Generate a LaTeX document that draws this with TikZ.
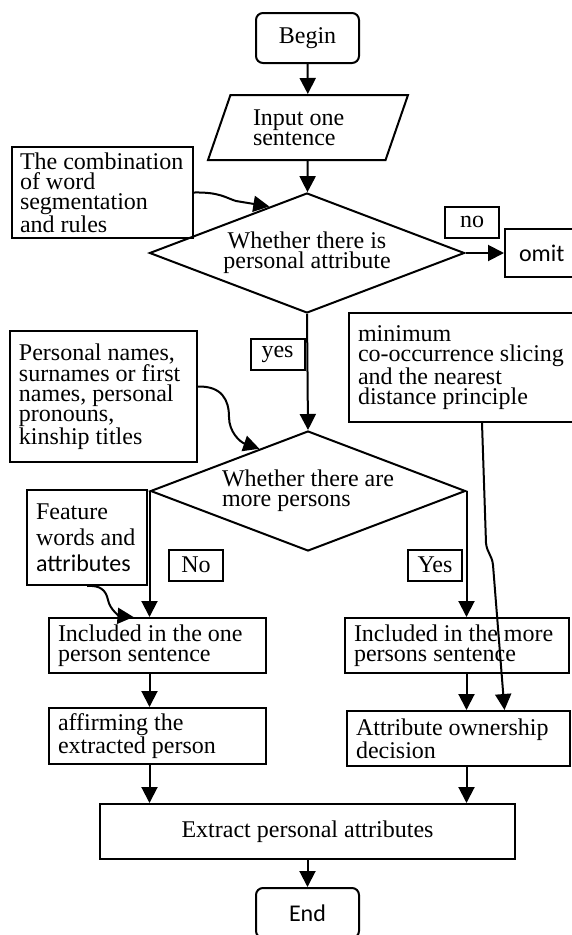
\documentclass[tikz,border=0pt]{standalone}
\usepackage{fontspec}
\setmainfont{Liberation Serif}
\setsansfont{Carlito}
\usetikzlibrary{shapes.geometric,arrows.meta}

\begin{document}
\begin{tikzpicture}[x=1pt,y=-1pt,line width=2pt,
		font=\fontsize{24}{20}\selectfont,
		arr/.style={-{Triangle[length=16pt,width=16pt]}},
		box/.style={draw,rectangle,inner sep=0pt,align=flush left},
		tag/.style={draw,rectangle,inner sep=0pt,minimum width=54pt,minimum height=31pt},
		term/.style={draw,rectangle,rounded corners=7pt,minimum width=103pt,minimum height=50pt},
		decide/.style={draw,diamond,inner sep=0pt,shape aspect=2.6,minimum width=315pt,minimum height=120pt}]
		\useasboundingbox (0,0) rectangle (571,935);
		% Main column
		\node[term] (begin) at (307.5,38) {Begin};
		\node[draw,trapezium,trapezium left angle=58,trapezium right angle=122,trapezium stretches body,
			minimum width=200pt,minimum height=65pt,inner sep=0pt,text width=110pt,align=flush left] (input) at (308,127.5) {Input one\\sentence};
		\node[decide,align=flush center] (d1) at (307,253) {Whether there is\\personal attribute};
		\node[box,minimum width=85pt,minimum height=48pt,text width=57pt] (omit) at (547.5,253) {\sffamily omit};
		\node[decide,align=flush left] (d2) at (308,491) {Whether there are\\more persons};
		\node[box,minimum width=217pt,minimum height=55pt,text width=199pt] (one) at (157.5,645.5) {Included in the one\\person sentence};
		\node[box,minimum width=217pt,minimum height=56pt,text width=199pt] (aff) at (157.5,736) {affirming the\\extracted person};
		\node[box,minimum width=224pt,minimum height=55pt,text width=206pt] (more) at (457,645.5) {Included in the more\\persons sentence};
		\node[box,minimum width=223pt,minimum height=55pt,text width=205pt] (attr) at (458.5,738.5) {Attribute ownership\\decision};
		\node[box,minimum width=415pt,minimum height=55pt,align=flush center] (extract) at (307.5,831.5) {Extract personal attributes};
		\node[term] (end) at (307.5,913) {\sffamily End};
		% Side notes
		\node[box,minimum width=181pt,minimum height=91pt,text width=165pt] (comb) at (102.5,192.5) {The combination\\of word\\segmentation\\and rules};
		\node[box,minimum width=187pt,minimum height=131pt,text width=169pt] (names) at (103.5,396.5) {Personal names,\\surnames or first\\names, personal\\pronouns,\\kinship titles};
		\node[box,minimum width=226pt,minimum height=109pt,text width=208pt] (slice) at (462,367.5) {minimum\\co-occurrence slicing\\and the nearest\\distance principle};
		\node[box,minimum width=120pt,minimum height=95pt,text width=102pt,font=\fontsize{24}{26}\selectfont] (feat) at (87,537.5) {Feature\\words and\\{\sffamily attributes}};
		% Branch labels
		\node[tag] (no) at (472,222) {no};
		\node[tag] (yes) at (277.5,354.5) {yes};
		\node[tag] (nobr) at (196,565) {No};
		\node[tag] (yesbr) at (435,565) {Yes};

		% Connectors
		\draw[arr] (begin) -- (input);
		\draw[arr] (input) -- (d1);
		\draw[arr] (d1.east) -- (omit.west);
		\draw[arr] (d1.south) -- (d2.north);
		\draw[arr] (d2.west) -- (d2.west |- one.north);
		\draw[arr] (d2.east) -- (d2.east |- more.north);
		\draw[arr] (d2.west |- one.south) -- (d2.west |- aff.north);
		\draw[arr] (d2.west |- aff.south) -- (d2.west |- extract.north);
		\draw[arr] (d2.east |- more.south) -- (d2.east |- attr.north);
		\draw[arr] (d2.east |- attr.south) -- (d2.east |- extract.north);
		\draw[arr] (extract) -- (end);
		\draw[arr] (comb.east) .. controls (220,192) and (226,198) .. (236,201) -- (d1.129);
		\draw[arr] ([yshift=10pt]names.east) .. controls (222,386) and (229,400) .. (229,417) .. controls (229,432) and (240,442) .. (d2.139);
		\draw[arr] (feat.south) .. controls (100,585) and (106,590) .. (108,600) .. controls (110,610) and (120,616) .. ([xshift=-24pt]one.north);
		\draw[arr] ([xshift=20pt]slice.south) -- (486,543) .. controls (487,553) and (492,555) .. (493,565) -- ([xshift=46pt]attr.north);
	\end{tikzpicture}
\end{document}
